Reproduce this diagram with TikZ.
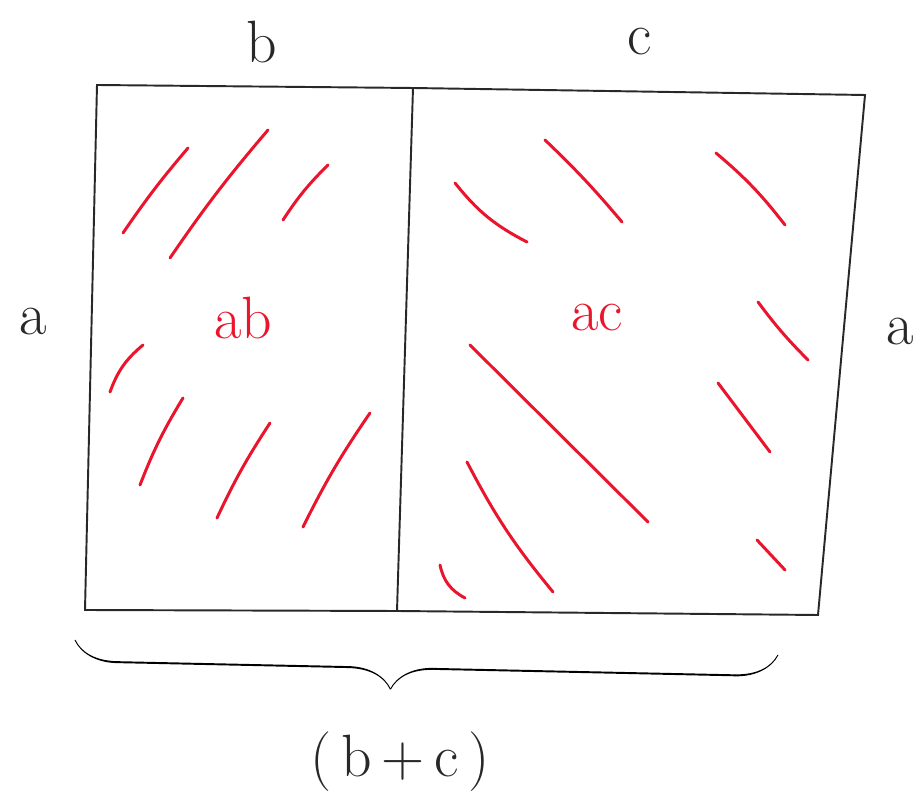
\documentclass[tikz,border=0pt]{standalone}
\usetikzlibrary{positioning, decorations.pathreplacing, calligraphy}
\definecolor{penred}{RGB}{235, 20, 45}
\definecolor{penink}{RGB}{40, 40, 40}

\tikzset{
  edgeline/.style={draw=penink, line width=1.1pt},
  hatch/.style={draw=penred, line width=1.7pt, line cap=round},
  sidelabel/.style={font=\fontsize{34}{40}\selectfont, text=penink},
  arealabel/.style={font=\fontsize{34}{40}\selectfont, text=penred},
}

\begin{document}
\begin{tikzpicture}[x=0.02cm, y=-0.02cm]
        \useasboundingbox (0,0) rectangle (917,793);

        % corners of the big rectangle
        \coordinate (tl) at (97,85);
        \coordinate (tm) at (413,88);
        \coordinate (tr) at (865,95);
        \coordinate (bl) at (85,610);
        \coordinate (bm) at (397,611);
        \coordinate (br) at (818,615);

        \draw[edgeline] (tl) -- (tm) -- (tr) -- (br) -- (bm) -- (bl) -- cycle;
        \draw[edgeline] (tm) -- (bm);

        % side lengths
        \node[sidelabel] (lblb) at (262,42) {b};
        \node[sidelabel] (lblc) at (640,42) {c};
        \node[sidelabel] (lblal) at (33,322) {a};
        \node[sidelabel] (lblar) at (900,332) {a};

        % areas
        \node[arealabel] (lblab) at (243,318) {ab};
        \node[arealabel] (lblac) at (597,318) {ac};

        % shading, left part
        \draw[hatch] (123,233) to[bend left=3] (188,148);
        \draw[hatch] (170,258) to[bend left=3] (268,130);
        \draw[hatch] (283,220) to[bend left=6] (328,165);
        \draw[hatch] (110,392) to[bend left=15] (143,345);
        \draw[hatch] (140,485) to[bend left=5] (183,398);
        \draw[hatch] (217,518) to[bend left=4] (270,423);
        \draw[hatch] (303,527) to[bend left=4] (370,413);

        % shading, right part
        \draw[hatch] (455,183) to[bend right=12] (527,242);
        \draw[hatch] (545,140) to[bend left=3] (622,222);
        \draw[hatch] (716,153) to[bend left=6] (785,225);
        \draw[hatch] (758,302) to[bend right=4] (808,360);
        \draw[hatch] (470,345) -- (648,522);
        \draw[hatch] (718,383) -- (770,452);
        \draw[hatch] (467,462) to[bend right=6] (553,592);
        \draw[hatch] (440,565) to[bend right=25] (465,598);
        \draw[hatch] (757,540) -- (785,570);

        % total length
        \coordinate (brl) at (75,640);
        \coordinate (brr) at (778,655);
        \draw[edgeline, decorate, decoration={calligraphic brace, mirror, amplitude=0.85cm, aspect=0.45}] (brl) -- (brr);
        \node[sidelabel] (lblbc) at (400,762) {(\,b\,+\,c\,)};
\end{tikzpicture}
\end{document}
